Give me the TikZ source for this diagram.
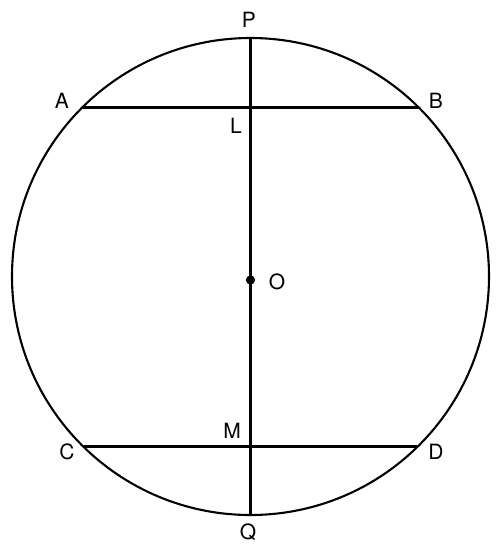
\documentclass[tikz,border=0pt]{standalone}
\usepackage{fontspec}
\setmainfont{TeX Gyre Heros}
\usetikzlibrary{calc}

\begin{document}
\begin{tikzpicture}[x=1pt,y=-1pt,line width=2.1pt,
  lbl/.style={inner sep=0pt,font=\fontsize{21}{25}\selectfont}]
\useasboundingbox (0,0) rectangle (503,547);
\coordinate (O) at (250.5,276.5);
% the circle and its points
\draw (O) circle[radius=238.5];
\coordinate (P) at (250.5,38);
\coordinate (Q) at (250.5,515);
\coordinate (A) at (81.7,107.5);
\coordinate (B) at (419.3,107.5);
\coordinate (C) at (83.7,446.5);
\coordinate (D) at (417.3,446.5);
\coordinate (dot) at (250.5,280);
\draw (A) -- (B);
\draw (C) -- (D);
\draw (P) -- (Q);
\fill (dot) circle[radius=4.6];
% labels
\node[lbl] (labP) at (249,20) {P};
\node[lbl] (labA) at (62,100.5) {A};
\node[lbl] (labB) at (436,100.5) {B};
\node[lbl] (labL) at (236,126) {L};
\node[lbl] (labO) at (277,282) {O};
\node[lbl] (labM) at (232,431) {M};
\node[lbl] (labC) at (67,452) {C};
\node[lbl] (labD) at (436,452) {D};
\node[lbl] (labQ) at (248,532) {Q};
\end{tikzpicture}
\end{document}
